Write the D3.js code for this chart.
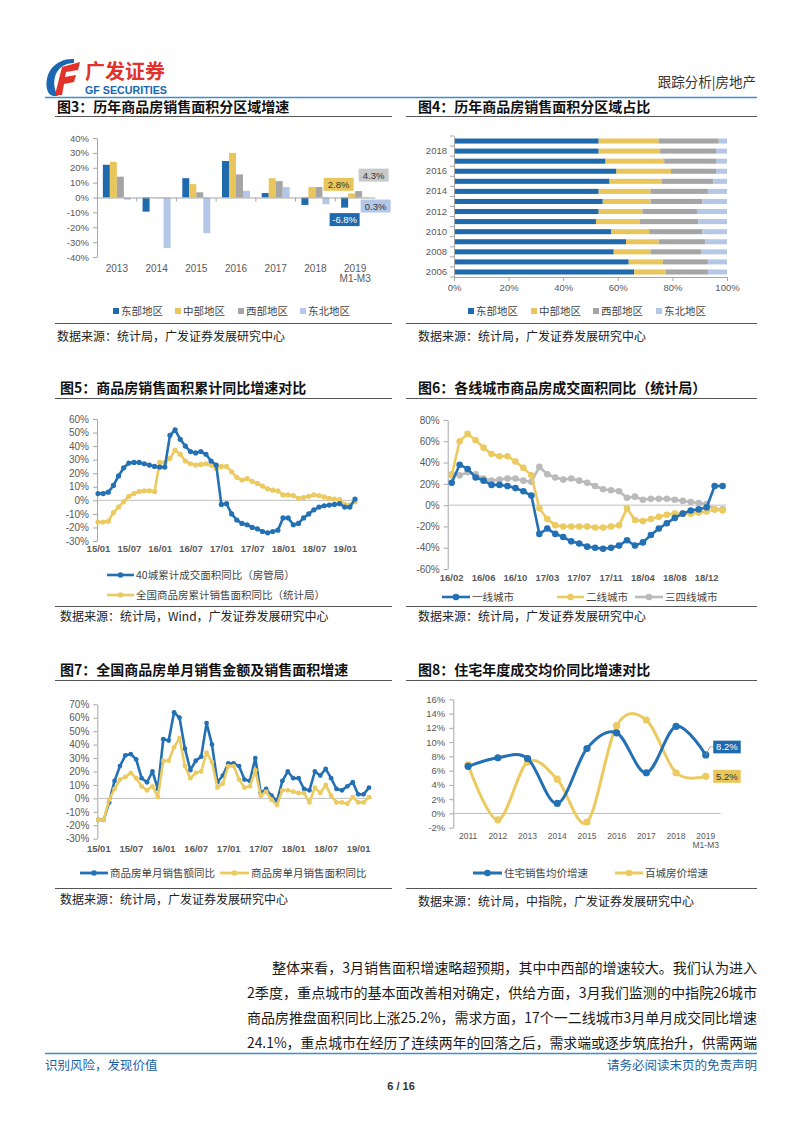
<!DOCTYPE html>
<html><head><meta charset="utf-8">
<script src="https://cdn.jsdelivr.net/npm/d3@7/dist/d3.min.js"></script>
<style>html,body{margin:0;padding:0;background:#fff}svg{display:block}</style>
</head><body>
<svg id="page" width="802" height="1133"></svg>
<script>
// ================= DATA =================
const regionNames = ["东部地区","中部地区","西部地区","东北地区"];

// Fig 3: regional growth of sales area (%)
const fig3Categories = ["2013","2014","2015","2016","2017","2018","2019|M1-M3"];
const fig3East    = [22, -9.5, 13, 24.5, 3, -5, -6.8];
const fig3Central = [24, 0.2, 9, 30, 13, 7, 2.8];
const fig3West    = [14, 0.3, 3.5, 15.5, 11, 7, 4.3];
const fig3NE      = [-1.5, -34, -24, 4.5, 7, -4.5, 0.3];
const fig3Ticks   = [-40,-30,-20,-10,0,10,20,30,40];

// Fig 4: regional share of sales area (%)
const fig4Years   = ["2006","2007","2008","2009","2010","2011","2012","2013","2014","2015","2016","2017","2018","2019"];
const fig4East    = [66, 64, 58.5, 63, 57.5, 52, 53, 54.5, 53, 57, 59.5, 55.5, 53, 53];
const fig4Central = [11.5, 12.5, 13.5, 12, 14, 16, 16, 17.5, 19, 19, 20, 21.5, 22.5, 22];
const fig4West    = [15.5, 16.5, 18.5, 17, 19.5, 21.5, 20, 19, 21, 19, 16.5, 19, 20.5, 22];
const fig4NE      = [7, 7, 9.5, 8, 9, 10.5, 11, 9, 7, 5, 4, 4, 4, 3];
const fig4Ticks   = [0,20,40,60,80,100];

// Fig 5: cumulative YoY sales area
const fig5Months = "15/01 15/02 15/03 15/04 15/05 15/06 15/07 15/08 15/09 15/10 15/11 15/12 16/01 16/02 16/03 16/04 16/05 16/06 16/07 16/08 16/09 16/10 16/11 16/12 17/01 17/02 17/03 17/04 17/05 17/06 17/07 17/08 17/09 17/10 17/11 17/12 18/01 18/02 18/03 18/04 18/05 18/06 18/07 18/08 18/09 18/10 18/11 18/12 19/01 19/02 19/03".split(" ");
const fig5TickLabels = ["15/01","15/07","16/01","16/07","17/01","17/07","18/01","18/07","19/01"];
const fig5City40 = [5,5,6,11,18,24,27.5,28,28,27,26,25,24.5,24.5,48,52,45,40,36,35,36,34,29,26,-3,-2.5,-10,-14.5,-17,-18,-20,-21,-23,-24,-23,-22,-13,-13,-18,-17,-13,-10,-7,-5,-4,-3.5,-3,-2.5,-5,-5,1];
const fig5National = [-16,-16,-15.5,-9,-5,-1,3,5,6.5,7,7,6.5,28,28,31,37,34,29,27,26,26.5,27,26,23.5,25,25,21,17,15,16,14,12.5,10.5,8.5,7.5,7,4,4,3.5,1.5,2,3,4,3.5,2.5,1.5,1,0.5,-3,-3.5,-1];
const fig5Ticks = [-30,-20,-10,0,10,20,30,40,50,60];

// Fig 6: YoY transaction area by city tier
const fig6Months = "16/02 16/03 16/04 16/05 16/06 16/07 16/08 16/09 16/10 16/11 16/12 17/02 17/03 17/04 17/05 17/06 17/07 17/08 17/09 17/10 17/11 17/12 18/02 18/03 18/04 18/05 18/06 18/07 18/08 18/09 18/10 18/11 18/12 19/02 19/03".split(" ");
const fig6TickLabels = ["16/02","16/06","16/10","17/03","17/07","17/11","18/04","18/08","18/12"];
const fig6Tier1 = [21,38,34,26,23,19,19,18,16,13,9,-27,-22,-27,-30,-34,-36,-39,-40,-41,-40,-38,-33,-38,-35,-28,-22,-17,-12,-8,-5,-4,-2,18,18];
const fig6Tier2 = [28,60,67,61,54,48,46,46,41,35,28,-3,-13,-19,-20,-20,-20,-20,-21,-21,-20,-19,-3,-14,-15,-13,-11,-9,-8,-8,-8,-7,-6,-4,-5];
const fig6Tier34 = [29,28,31,29,25,23,24,25,25,23,22,36,29,26,24,25,23,21,18,15,14,13,7,8,5,6,6,6,5,4,3,2,1,-4,-4];
const fig6Ticks = [-60,-40,-20,0,20,40,60,80];

// Fig 7: monthly YoY sales amount and area
const fig7Months = fig5Months.slice();
const fig7TickLabels = ["15/01","15/07","16/01","16/07","17/01","17/07","18/01","18/07","19/01"];
const fig7Amount = [-16,-16,-3,13,24,32,33,29,15,12,20,7,44,43,64,60,37,21,28,31,56,40,12,17,26,26,24,14,13,30,4,7,2,-2,13,20,15,15,7,6,20,17,22,15,7,6,9,12,3,3,8];
const fig7Area   = [-16,-16,-1,7,14,16,19,15,9,6,9,1,28,28,38,45,24,15,19,20,34,27,8,11,24,24,14,8,9,21,2,5,-1,-5,6,6,5,4,4,-3,8,4,10,2,-3,-3,-4,1,-3,-3,1];
const fig7Ticks = [-30,-20,-10,0,10,20,30,40,50,60,70];

// Fig 8: annual price growth
const fig8Categories = ["2011","2012","2013","2014","2015","2016","2017","2018","2019|M1-M3"];
const fig8Residential = [6.6,7.8,7.7,1.4,9.1,11.3,5.7,12.2,8.2];
const fig8Hundred     = [6.8,-0.9,7.2,4.8,-1.2,12.3,13.1,5.7,5.2];
const fig8Ticks = [-2,0,2,4,6,8,10,12,14,16];

const paragraphLines = [
  "整体来看，3月销售面积增速略超预期，其中中西部的增速较大。我们认为进入",
  "2季度，重点城市的基本面改善相对确定，供给方面，3月我们监测的中指院26城市",
  "商品房推盘面积同比上涨25.2%，需求方面，17个一二线城市3月单月成交同比增速",
  "24.1%，重点城市在经历了连续两年的回落之后，需求端或逐步筑底抬升，供需两端"
];

// ================= STYLE =================
const CN = "'Noto Sans CJK SC','Noto Sans',sans-serif";
const AR = "'Liberation Sans',Arial,sans-serif";
const COL = {blue:"#1f69ad", yellow:"#e9c65c", gray:"#a5a5a5", lblue:"#b4c7e7"};
const LN = {blue:"#2371b4", yellow:"#ebca60", gray:"#bababa"};
const AXC = "#a6a6a6", ZC = "#bfbfbf", TXC = "#595959";

const svg = d3.select("#page");
svg.append("rect").attr("width",802).attr("height",1133).attr("fill","#fff");

function txt(g, x, y, s, o={}) {
  return g.append("text").attr("x",x).attr("y",y).text(s)
    .attr("font-family", o.ff||CN).attr("font-size", o.fs||12)
    .attr("font-weight", o.fw||"normal").attr("fill", o.fill||"#222")
    .attr("text-anchor", o.anchor||"start");
}
function styleAxis(sel, fs, fw) {
  sel.attr("font-family", AR).attr("font-size", fs);
  sel.select(".domain").attr("stroke", AXC);
  sel.selectAll(".tick line").attr("stroke", AXC);
  sel.selectAll(".tick text").attr("fill", TXC).attr("font-weight", fw||"normal");
}
function multiline(sel, fs) {
  sel.selectAll(".tick text").each(function(d){
    const parts = String(d).split("|");
    const t = d3.select(this); t.text(null);
    parts.forEach((p,i)=> t.append("tspan").attr("x",0).attr("dy", i===0 ? "0.71em" : "1.0em").text(p));
  });
}
function titleBlock(x, y, lx1, lx2, ly, s) {
  txt(svg, x, y, s, {fs:14, fw:"bold", fill:"#111"});
  svg.append("line").attr("x1",lx1).attr("x2",lx2).attr("y1",ly).attr("y2",ly).attr("stroke","#555").attr("stroke-width",1);
}
function sourceBlock(x, y, lx1, lx2, ly, s) {
  svg.append("line").attr("x1",lx1).attr("x2",lx2).attr("y1",ly).attr("y2",ly).attr("stroke","#555").attr("stroke-width",1);
  txt(svg, x, y, s, {fs:12, fill:"#222"});
}
function legendSquare(g, x, y, color, label) {
  g.append("rect").attr("x",x).attr("y",y-3).attr("width",6).attr("height",6).attr("fill",color);
  txt(g, x+8, y+3.8, label, {fs:10.5, fill:"#444"});
}
function legendLine(g, x1, x2, y, color, label, r, sw) {
  g.append("line").attr("x1",x1).attr("x2",x2).attr("y1",y).attr("y2",y).attr("stroke",color).attr("stroke-width",sw);
  g.append("circle").attr("cx",(x1+x2)/2).attr("cy",y).attr("r",r).attr("fill",color);
  txt(g, x2+2, y+3.8, label, {fs:10.5, fill:"#444"});
}

// ================= HEADER =================
(function header(){
  const g = svg.append("g");
  // logo mark
  g.append("path").attr("d","M74,59 C56,58 44,72 47,89 C48,93 50,95 53,96 L58,96 C52,86 53,72 63,66 C66,64 70,63 74,63 Z").attr("fill","#1b67b2");
  g.append("path").attr("d","M62,67 L80,62 L78,70 L66,72 L65,77 L76,75 L74,82 L64,84 L62,95 L55,95 Z").attr("fill","#e2322a");
  txt(g, 85, 79, "广发证券", {fs:20, fw:"bold", fill:"#e2322a"});
  txt(g, 85, 94, "GF SECURITIES", {ff:AR, fs:10.5, fw:"bold", fill:"#1b67b2"}).attr("textLength",82).attr("lengthAdjust","spacingAndGlyphs");
  txt(g, 756, 87, "跟踪分析|房地产", {fs:13.5, fill:"#333", anchor:"end"});
  g.append("line").attr("x1",45).attr("x2",757).attr("y1",97.5).attr("y2",97.5).attr("stroke","#3b8fd0").attr("stroke-width",1.6);
})();

// ================= FIG 3 =================
(function fig3(){
  titleBlock(57, 112, 55, 392, 116.5, "图3：历年商品房销售面积分区域增速");
  const g = svg.append("g");
  const x = d3.scaleBand().domain(fig3Categories).range([97,375]);
  const y = d3.scaleLinear().domain([-40,40]).range([257,138]);
  const inner = d3.scaleBand().domain(regionNames).range([0,28]);
  const off = (x.bandwidth()-28)/2;
  const series = [fig3East, fig3Central, fig3West, fig3NE];
  const cols = [COL.blue, COL.yellow, COL.gray, COL.lblue];
  const ya = g.append("g").attr("transform","translate(97,0)")
    .call(d3.axisLeft(y).tickValues(fig3Ticks).tickFormat(d=>d+"%").tickSize(4).tickSizeOuter(0).tickPadding(4));
  styleAxis(ya, 9.5);
  series.forEach((s,k)=>{
    g.selectAll(null).data(s).join("rect")
      .attr("x",(d,i)=>x(fig3Categories[i])+off+inner(regionNames[k]))
      .attr("width",inner.bandwidth())
      .attr("y",d=>y(Math.max(0,d))).attr("height",d=>Math.abs(y(d)-y(0)))
      .attr("fill",cols[k]);
  });
  const xa = g.append("g").attr("transform",`translate(0,${y(0)})`)
    .call(d3.axisBottom(x).tickSize(0).tickSizeOuter(0).tickFormat(""));
  styleAxis(xa, 10);
  g.selectAll(null).data(fig3Categories.slice(1)).join("line")
    .attr("x1",d=>x(d)).attr("x2",d=>x(d)).attr("y1",y(0)).attr("y2",y(0)+4).attr("stroke",AXC);
  const xl = g.append("g").attr("transform","translate(0,262)")
    .call(d3.axisBottom(x).tickSize(0).tickPadding(3));
  xl.select(".domain").remove();
  styleAxis(xl, 10);
  multiline(xl);
  // data labels for last category
  const last = fig3Categories.length-1;
  const labelSpec = [
    {k:0, v:fig3East[last],    dx:0,   dy:12,  fill:COL.blue,   tc:"#fff"},
    {k:1, v:fig3Central[last], dx:-13, dy:-9,  fill:COL.yellow, tc:"#333"},
    {k:2, v:fig3West[last],    dx:15,  dy:-16, fill:"#c9c9c9",  tc:"#333"},
    {k:3, v:fig3NE[last],      dx:10,  dy:9,   fill:COL.lblue,  tc:"#333"}
  ];
  labelSpec.forEach(sp=>{
    const cx = x(fig3Categories[last])+off+inner(regionNames[sp.k])+inner.bandwidth()/2 + sp.dx;
    const cy = y(sp.v) + sp.dy;
    g.append("rect").attr("x",cx-15).attr("y",cy-6.5).attr("width",30).attr("height",13).attr("fill",sp.fill);
    txt(g, cx, cy+3.5, sp.v.toFixed(1)+"%", {ff:AR, fs:9.5, fill:sp.tc, anchor:"middle"});
  });
  const lg = svg.append("g");
  const lx = [113,175,238,300];
  regionNames.forEach((n,i)=>legendSquare(lg, lx[i], 311, cols[i], n));
  sourceBlock(57, 341, 55, 392, 323.5, "数据来源：统计局，广发证券发展研究中心");
})();

// ================= FIG 4 =================
(function fig4(){
  titleBlock(418, 112, 406, 757, 116.5, "图4：历年商品房销售面积分区域占比");
  const g = svg.append("g");
  const x = d3.scaleLinear().domain([0,100]).range([454,727]);
  const y = d3.scaleBand().domain(fig4Years).range([277,136]).paddingInner(0.5).paddingOuter(0.25);
  const table = fig4Years.map((yr,i)=>({year:yr, e:fig4East[i], c:fig4Central[i], w:fig4West[i], n:fig4NE[i]}));
  const stack = d3.stack().keys(["e","c","w","n"])(table);
  const cols = [COL.blue, COL.yellow, COL.gray, COL.lblue];
  stack.forEach((layer,k)=>{
    g.selectAll(null).data(layer).join("rect")
      .attr("y",d=>y(d.data.year)).attr("height",y.bandwidth())
      .attr("x",d=>x(d[0])).attr("width",d=>x(d[1])-x(d[0]))
      .attr("fill",cols[k]);
  });
  const ya = g.append("g").attr("transform","translate(454,0)")
    .call(d3.axisLeft(y).tickSize(0).tickSizeOuter(0).tickPadding(7).tickFormat((d,i)=> i%2===0 ? d : ""));
  styleAxis(ya, 9.5);
  const step = y.step();
  g.selectAll(null).data(d3.range(fig4Years.length+1)).join("line")
    .attr("x1",450).attr("x2",454).attr("y1",i=>136+i*step).attr("y2",i=>136+i*step).attr("stroke",AXC);
  const xa = g.append("g").attr("transform","translate(0,277)")
    .call(d3.axisBottom(x).tickValues(fig4Ticks).tickFormat(d=>d+"%").tickSize(4).tickSizeOuter(0).tickPadding(3));
  styleAxis(xa, 9.5);
  const lg = svg.append("g");
  const lx = [468,531,593,656];
  regionNames.forEach((n,i)=>legendSquare(lg, lx[i], 311, cols[i], n));
  sourceBlock(418, 341, 406, 757, 323.5, "数据来源：统计局，广发证券发展研究中心");
})();

// ================= FIG 5 =================
(function fig5(){
  titleBlock(60, 393, 55, 392, 398.5, "图5：商品房销售面积累计同比增速对比");
  const g = svg.append("g");
  const x = d3.scalePoint().domain(fig5Months).range([98,355]);
  const y = d3.scaleLinear().domain([-30,60]).range([541,419]);
  const ya = g.append("g").attr("transform","translate(97,0)")
    .call(d3.axisLeft(y).tickValues(fig5Ticks).tickFormat(d=>d+"%").tickSize(4).tickSizeOuter(0).tickPadding(4));
  styleAxis(ya, 10);
  g.append("line").attr("x1",97).attr("x2",358).attr("y1",y(0)).attr("y2",y(0)).attr("stroke",ZC);
  const xl = g.append("g").attr("transform","translate(0,542)")
    .call(d3.axisBottom(x).tickValues(fig5TickLabels).tickSize(0).tickPadding(3));
  xl.select(".domain").remove();
  styleAxis(xl, 9.5, "bold");
  const line = d3.line().x((d,i)=>x(fig5Months[i])).y(d=>y(d));
  [[fig5National, LN.yellow],[fig5City40, LN.blue]].forEach(([s,c])=>{
    g.append("path").attr("d",line(s)).attr("fill","none").attr("stroke",c).attr("stroke-width",2.6).attr("stroke-linejoin","round");
    g.selectAll(null).data(s).join("circle").attr("cx",(d,i)=>x(fig5Months[i])).attr("cy",d=>y(d)).attr("r",2.6).attr("fill",c);
  });
  const lg = svg.append("g");
  legendLine(lg, 107, 134, 575, LN.blue, "40城累计成交面积同比（房管局）", 2.8, 2.6);
  legendLine(lg, 107, 134, 595, LN.yellow, "全国商品房累计销售面积同比（统计局）", 2.8, 2.6);
  sourceBlock(60, 621, 55, 392, 606.5, "数据来源：统计局，Wind，广发证券发展研究中心");
})();

// ================= FIG 6 =================
(function fig6(){
  titleBlock(418, 393, 406, 757, 398.5, "图6：各线城市商品房成交面积同比（统计局）");
  const g = svg.append("g");
  const x = d3.scaleBand().domain(fig6Months).range([447.7,726.6]);
  const cx = d => x(d)+x.bandwidth()/2;
  const y = d3.scaleLinear().domain([-60,80]).range([569,420]);
  const ya = g.append("g").attr("transform","translate(447.7,0)")
    .call(d3.axisLeft(y).tickValues(fig6Ticks).tickFormat(d=>d+"%").tickSize(4).tickSizeOuter(0).tickPadding(4));
  styleAxis(ya, 10);
  g.append("line").attr("x1",447.7).attr("x2",726.6).attr("y1",y(0)).attr("y2",y(0)).attr("stroke",ZC);
  const xl = g.append("g").attr("transform","translate(0,571)")
    .call(d3.axisBottom(x).tickValues(fig6TickLabels).tickSize(0).tickPadding(3));
  xl.select(".domain").remove();
  styleAxis(xl, 9.5, "bold");
  const line = d3.line().x((d,i)=>cx(fig6Months[i])).y(d=>y(d));
  [[fig6Tier34, LN.gray],[fig6Tier2, LN.yellow],[fig6Tier1, LN.blue]].forEach(([s,c])=>{
    g.append("path").attr("d",line(s)).attr("fill","none").attr("stroke",c).attr("stroke-width",2.6).attr("stroke-linejoin","round");
    g.selectAll(null).data(s).join("circle").attr("cx",(d,i)=>cx(fig6Months[i])).attr("cy",d=>y(d)).attr("r",3.3).attr("fill",c);
  });
  const lg = svg.append("g");
  legendLine(lg, 442, 470, 597, LN.blue, "一线城市", 3.3, 2.6);
  legendLine(lg, 557, 584, 597, LN.yellow, "二线城市", 3.3, 2.6);
  legendLine(lg, 635, 663, 597, LN.gray, "三四线城市", 3.3, 2.6);
  sourceBlock(418, 621, 406, 757, 606.5, "数据来源：统计局，广发证券发展研究中心");
})();

// ================= FIG 7 =================
(function fig7(){
  titleBlock(60, 675, 55, 392, 680.5, "图7：全国商品房单月销售金额及销售面积增速");
  const g = svg.append("g");
  const x = d3.scalePoint().domain(fig7Months).range([98.3,369]);
  const y = d3.scaleLinear().domain([-30,70]).range([838.7,704.3]);
  const ya = g.append("g").attr("transform","translate(97.3,0)")
    .call(d3.axisLeft(y).tickValues(fig7Ticks).tickFormat(d=>d+"%").tickSize(4).tickSizeOuter(0).tickPadding(4));
  styleAxis(ya, 10);
  g.append("line").attr("x1",97.3).attr("x2",372).attr("y1",y(0)).attr("y2",y(0)).attr("stroke",ZC);
  const xl = g.append("g").attr("transform","translate(0,842)")
    .call(d3.axisBottom(x).tickValues(fig7TickLabels).tickSize(0).tickPadding(3));
  xl.select(".domain").remove();
  styleAxis(xl, 9.5, "bold");
  const line = d3.line().x((d,i)=>x(fig7Months[i])).y(d=>y(d));
  [[fig7Amount, LN.blue],[fig7Area, LN.yellow]].forEach(([s,c])=>{
    g.append("path").attr("d",line(s)).attr("fill","none").attr("stroke",c).attr("stroke-width",2.6).attr("stroke-linejoin","round");
    g.selectAll(null).data(s).join("circle").attr("cx",(d,i)=>x(fig7Months[i])).attr("cy",d=>y(d)).attr("r",2.4).attr("fill",c);
  });
  const lg = svg.append("g");
  legendLine(lg, 80, 108, 873, LN.blue, "商品房单月销售额同比", 2.8, 2.8);
  legendLine(lg, 220, 249, 873, LN.yellow, "商品房单月销售面积同比", 2.8, 2.8);
  sourceBlock(60, 904, 55, 392, 888.5, "数据来源：统计局，广发证券发展研究中心");
})();

// ================= FIG 8 =================
(function fig8(){
  titleBlock(418, 675, 406, 757, 680.5, "图8：住宅年度成交均价同比增速对比");
  const g = svg.append("g");
  const x = d3.scaleBand().domain(fig8Categories).range([453.3,720.6]);
  const cx = d => x(d)+x.bandwidth()/2;
  const y = d3.scaleLinear().domain([-2,16]).range([827.7,699.3]);
  const ya = g.append("g").attr("transform","translate(453.3,0)")
    .call(d3.axisLeft(y).tickValues(fig8Ticks).tickFormat(d=>d+"%").tickSize(4).tickSizeOuter(0).tickPadding(4));
  styleAxis(ya, 9.5);
  g.append("line").attr("x1",453.3).attr("x2",720.6).attr("y1",y(0)).attr("y2",y(0)).attr("stroke",ZC);
  const xl = g.append("g").attr("transform","translate(0,830)")
    .call(d3.axisBottom(x).tickSize(0).tickPadding(3));
  xl.select(".domain").remove();
  styleAxis(xl, 8.5);
  multiline(xl);
  const line = d3.line().x((d,i)=>cx(fig8Categories[i])).y(d=>y(d)).curve(d3.curveCatmullRom.alpha(0));
  [[fig8Hundred, LN.yellow],[fig8Residential, LN.blue]].forEach(([s,c])=>{
    g.append("path").attr("d",line(s)).attr("fill","none").attr("stroke",c).attr("stroke-width",3);
    g.selectAll(null).data(s).join("circle").attr("cx",(d,i)=>cx(fig8Categories[i])).attr("cy",d=>y(d)).attr("r",3.6).attr("fill",c);
  });
  const last = fig8Categories.length-1;
  const px = cx(fig8Categories[last]);
  // 8.2% label with leader
  const by = y(fig8Residential[last]) - 8;
  g.append("polyline").attr("points",`${px},${y(fig8Residential[last])} ${px+4},${by} ${px+8},${by}`).attr("fill","none").attr("stroke","#999").attr("stroke-width",0.8);
  g.append("rect").attr("x",px+7.5).attr("y",by-6.3).attr("width",27.5).attr("height",12.7).attr("fill",COL.blue);
  txt(g, px+21.2, by+3.4, fig8Residential[last].toFixed(1)+"%", {ff:AR, fs:9.5, fill:"#fff", anchor:"middle"});
  const yy = y(fig8Hundred[last]);
  g.append("rect").attr("x",px+7.5).attr("y",yy-6.5).attr("width",27.5).attr("height",13).attr("fill",COL.yellow);
  txt(g, px+21.2, yy+3.4, fig8Hundred[last].toFixed(1)+"%", {ff:AR, fs:9.5, fill:"#333", anchor:"middle"});
  const lg = svg.append("g");
  legendLine(lg, 473, 502, 873, LN.blue, "住宅销售均价增速", 3.3, 3);
  legendLine(lg, 615, 643, 873, LN.yellow, "百城房价增速", 3.3, 3);
  sourceBlock(418, 906, 406, 757, 888.5, "数据来源：统计局，中指院，广发证券发展研究中心");
})();

// ================= TEXT & FOOTER =================
(function footer(){
  const g = svg.append("g");
  const starts = [272,247,247,247];
  const bases = [973,998,1023,1048];
  paragraphLines.forEach((s,i)=>{
    txt(g, starts[i], bases[i], s, {fs:14, fill:"#1a1a1a"}).attr("textLength",757-starts[i]).attr("lengthAdjust","spacingAndGlyphs");
  });
  g.append("line").attr("x1",45).attr("x2",757).attr("y1",1053.5).attr("y2",1053.5).attr("stroke","#3b8fd0").attr("stroke-width",1.6);
  txt(g, 45, 1070, "识别风险，发现价值", {fs:12.5, fill:"#1b5fa6"});
  txt(g, 757, 1070, "请务必阅读末页的免责声明", {fs:12.5, fill:"#1b5fa6", anchor:"end"});
  txt(g, 401, 1090, "6 / 16", {ff:AR, fs:11, fw:"bold", fill:"#333", anchor:"middle"});
})();
</script>
</body></html>
